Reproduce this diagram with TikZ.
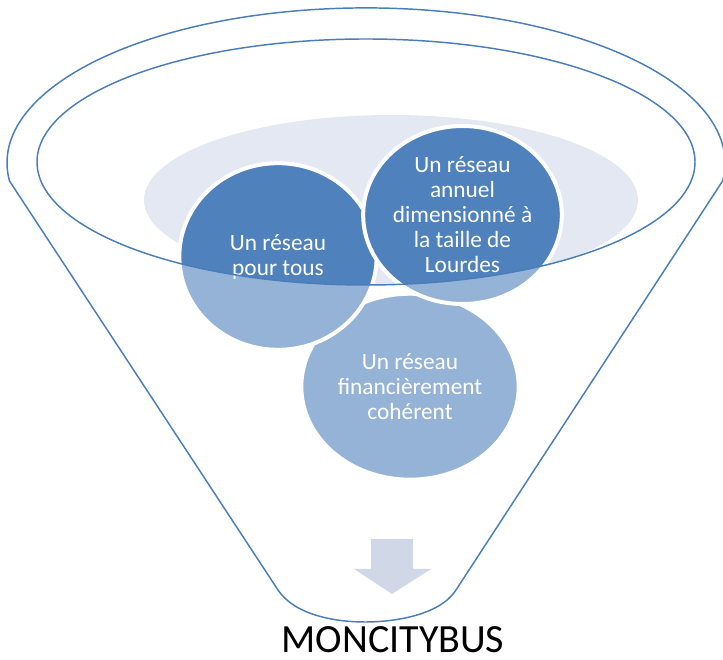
\documentclass[tikz,border=0pt]{standalone}
\usepackage{fontspec}
\usepackage{xcolor}
\usepackage{tikz}
\usetikzlibrary{positioning,shapes.geometric}

\newfontfamily\calib{Carlito}

\definecolor{rimblue}{RGB}{74,126,187}
\definecolor{balldark}{RGB}{79,129,189}
\definecolor{balllight}{RGB}{149,179,215}
\definecolor{haze}{RGB}{227,232,242}
\definecolor{chute}{RGB}{208,216,232}

\tikzset{
  rim/.style={draw=rimblue, line width=1.1pt},
  ball/.style={ellipse, fill=balllight, draw=white, line width=3pt, inner sep=0pt,
    text=white, align=center, font={\calib\fontsize{17.5}{18.75}\selectfont},
    path picture={\fill[balldark] (bowl) ellipse [x radius=246.75pt, y radius=92.25pt];}},
}

\begin{document}
\begin{tikzpicture}[x=0.75pt, y=0.75pt]
    \useasboundingbox (0,0) rectangle (723,659);

    \coordinate (bowl) at (366,497);
    \coordinate (rimL) at (9.5,478);
    \coordinate (rimR) at (722.5,478);
    \coordinate (neckL) at (278,69);
    \coordinate (neckR) at (456,69);
    \coordinate (tip) at (365,37);

    \coordinate (B1) at (278,402.5);
    \coordinate (B2) at (462.5,444);
    \coordinate (B3) at (410,272.3);

    \fill [haze] (391,459) ellipse [x radius=247, y radius=85];
    \draw [rim] (rimL) arc [start angle=186.7, end angle=-6.7, x radius=359, y radius=155]
        -- (neckR) .. controls (440,44) and (395,37) .. (tip)
        .. controls (335,37) and (294.5,44) .. (neckL) -- cycle;

    \node [ball, minimum width=163pt, minimum height=139.5pt] (coherent) at (B3)
        {Un réseau\\financièrement\\cohérent};
    \node [ball, minimum width=148pt, minimum height=140pt] (pourtous) at (B1)
        {Un réseau\\pour tous};
    \node [ball, minimum width=149pt, minimum height=133.5pt] (lourdes) at (B2)
        {Un réseau\\annuel\\dimensionné à\\la taille de\\Lourdes};

    \draw [rim] (bowl) ellipse [x radius=329, y radius=123];

    \fill [chute] (371,120) -- (413,120) -- (413,90) -- (431,90) -- (392,65)
        -- (354,90) -- (371,90) -- cycle;

    \node [anchor=base, inner sep=0pt, font={\calib\fontsize{30}{36}\selectfont}] (title) at (393,7) {MONCITYBUS};
\end{tikzpicture}
\end{document}
